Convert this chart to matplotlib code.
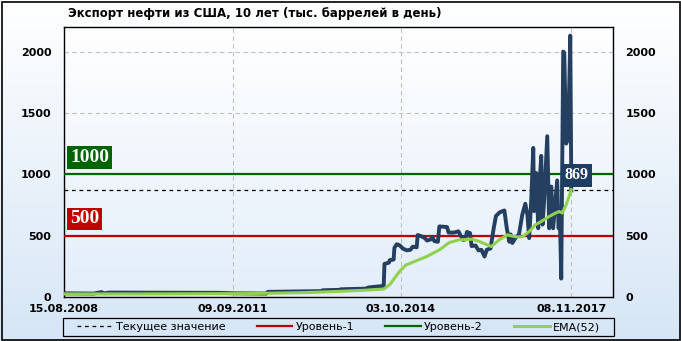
import matplotlib
matplotlib.use('Agg')
import matplotlib.pyplot as plt
import matplotlib.dates as mdates
import numpy as np
import pandas as pd
from matplotlib.colors import LinearSegmentedColormap
from matplotlib.patches import Rectangle
from matplotlib.transforms import blended_transform_factory

# export of crude oil, thousand barrels per day
export_dates = [
    '2008-08-15', '2009-03-01', '2009-04-20', '2009-05-10', '2009-06-10', '2010-06-01',
    '2011-06-01', '2011-10-01', '2012-04-20', '2012-05-01', '2013-04-20', '2013-05-01',
    '2013-08-15', '2013-09-01', '2014-02-10', '2014-03-01', '2014-06-10', '2014-06-15',
    '2014-07-15', '2014-07-20', '2014-08-15', '2014-08-20', '2014-09-05', '2014-09-25',
    '2014-10-15', '2014-11-10', '2014-12-05', '2014-12-20', '2015-01-15', '2015-01-22',
    '2015-02-15', '2015-03-10', '2015-03-25', '2015-04-20', '2015-04-28', '2015-05-13',
    '2015-06-05', '2015-06-15', '2015-08-05', '2015-08-15', '2015-09-20', '2015-10-20',
    '2015-11-01', '2015-11-20', '2015-12-05', '2015-12-15', '2016-01-05', '2016-01-15',
    '2016-02-10', '2016-03-01', '2016-03-20', '2016-04-10', '2016-04-25', '2016-05-20',
    '2016-06-10', '2016-06-25', '2016-07-20', '2016-08-20', '2016-09-05', '2016-09-22',
    '2016-10-01', '2016-10-12', '2016-11-01', '2016-11-25', '2016-12-17', '2017-01-06',
    '2017-01-20', '2017-02-01', '2017-02-15', '2017-02-28', '2017-03-06', '2017-03-20',
    '2017-04-02', '2017-04-10', '2017-04-22', '2017-05-01', '2017-05-12', '2017-06-01',
    '2017-06-14', '2017-06-28', '2017-07-10', '2017-08-06', '2017-08-15', '2017-08-25',
    '2017-09-02', '2017-09-15', '2017-09-22', '2017-10-05', '2017-10-18', '2017-11-01',
    '2017-11-08']
export_values = [
    30, 28, 40, 30, 36, 35,
    34, 30, 28, 42, 48, 55,
    58, 63, 68, 78, 90, 270,
    280, 300, 305, 400, 430, 420,
    395, 380, 385, 410, 405, 505,
    495, 480, 460, 470, 490, 455,
    450, 575, 570, 525, 525, 535,
    505, 465, 470, 530, 520, 415,
    420, 380, 385, 330, 385, 395,
    560, 660, 690, 705, 560, 450,
    510, 440, 480, 510, 670, 760,
    670, 480, 800, 1215, 700, 1010,
    560, 910, 1150, 590, 800, 1310,
    560, 900, 560, 950, 560, 600,
    150, 2000, 1990, 1250, 1300, 2130,
    869]

ema_dates = [
    '2008-08-15', '2010-01-01', '2012-01-01', '2012-12-01', '2013-08-01', '2014-02-01',
    '2014-06-10', '2014-07-20', '2014-09-22', '2014-11-05', '2015-03-21', '2015-06-15',
    '2015-08-20', '2015-10-26', '2016-01-20', '2016-03-07', '2016-05-25', '2016-07-17',
    '2016-09-08', '2016-11-07', '2016-12-17', '2017-02-01', '2017-03-13', '2017-04-22',
    '2017-06-14', '2017-07-20', '2017-08-19', '2017-09-08', '2017-10-05', '2017-11-08']
ema_values = [
    25, 25, 28, 35, 45, 55,
    65, 100, 207, 261, 329, 384,
    444, 466, 471, 452, 411, 466,
    506, 490, 490, 533, 588, 615,
    656, 680, 697, 684, 752, 874]

current_value = 869
level_1 = 500
level_2 = 1000
tick_dates = ['2008-08-15', '2011-09-09', '2014-10-03', '2017-11-08']
y_ticks = [0, 500, 1000, 1500, 2000]

W, H = 681, 341
fig = plt.figure(figsize=(W / 100, H / 100), dpi=100)

# plot area in pixels
left, right, top, bottom = 64, 613, 27, 297
ax_rect = [left / W, 1 - bottom / H, (right - left) / W, (bottom - top) / H]

# background gradients
bg = fig.add_axes([0, 0, 1, 1], zorder=-10)
bg.set_xlim(0, 1)
bg.set_ylim(0, 1)
bg.axis('off')
grad = np.linspace(0, 1, 256).reshape(-1, 1)
cm_fig = LinearSegmentedColormap.from_list('figbg', ['#FFFFFF', '#D6E6F6'])
cm_ax = LinearSegmentedColormap.from_list('axbg', ['#FFFFFF', '#E3EEFA'])
bg.imshow(grad, cmap=cm_fig, aspect='auto', extent=[0, 1, 0, 1], origin='upper')
bg.imshow(grad, cmap=cm_ax, aspect='auto', origin='upper',
          extent=[ax_rect[0], ax_rect[0] + ax_rect[2], ax_rect[1], ax_rect[1] + ax_rect[3]])
bg.add_patch(Rectangle((1.5 / W, 1.5 / H), 1 - 3 / W, 1 - 3 / H, fill=False,
                       edgecolor='black', linewidth=1.2))
# legend frame
bg.add_patch(Rectangle((63 / W, 1 - 336 / H), (614 - 63) / W, 18 / H, fill=False,
                       edgecolor='black', linewidth=0.9))

ax = fig.add_axes(ax_rect)
ax.patch.set_visible(False)

ex_d = pd.to_datetime(export_dates)
ema_d = pd.to_datetime(ema_dates)

ax.plot(ex_d, export_values, color='#243F60', linewidth=2.8, solid_joinstyle='round', zorder=5)
ema_line, = ax.plot(ema_d, ema_values, color='#92D050', linewidth=2.2, zorder=6)
cur_line = ax.axhline(current_value, color='black', linestyle=(0, (3, 3)), linewidth=0.9, zorder=4)
l1 = ax.axhline(level_1, color='#C00000', linewidth=1.6, zorder=4)
l2 = ax.axhline(level_2, color='#006400', linewidth=1.6, zorder=4)

ax.set_ylim(0, 2200)
ax.set_xlim(pd.Timestamp('2008-08-15'), pd.Timestamp('2018-08-12'))
ax.set_yticks(y_ticks)
ax.set_xticks(pd.to_datetime(tick_dates))
ax.xaxis.set_major_formatter(mdates.DateFormatter('%d.%m.%Y'))
ax.grid(True, color='#C0C0C0', linestyle=(0, (4, 3)), linewidth=0.8)
ax.set_axisbelow(True)
ax.tick_params(axis='y', length=0, pad=9, labelleft=True, labelright=True, labelsize=8)
ax.tick_params(axis='x', length=0, pad=5, labelsize=8)
for lab in ax.get_xticklabels() + ax.get_yticklabels():
    lab.set_fontweight('bold')
for t in ax.yaxis.get_major_ticks():
    t.label2.set_fontweight('bold')
for s in ax.spines.values():
    s.set_color('black')
    s.set_linewidth(1)

# level labels
tr = blended_transform_factory(ax.transAxes, ax.transData)
ax.annotate(str(level_2), xy=(0.011, level_2), xycoords=tr, xytext=(0, 12), textcoords='offset points',
            ha='left', va='center', color='white', fontsize=14, fontweight='bold',
            family='Liberation Serif', zorder=8,
            bbox=dict(boxstyle='square,pad=0.15', facecolor='#006400', edgecolor='none'))
ax.annotate(str(level_1), xy=(0.011, level_1), xycoords=tr, xytext=(0, 12), textcoords='offset points',
            ha='left', va='center', color='white', fontsize=14, fontweight='bold',
            family='Liberation Serif', zorder=8,
            bbox=dict(boxstyle='square,pad=0.15', facecolor='#C00000', edgecolor='none'))
ax.annotate(str(current_value), xy=(ex_d[-1], current_value), xytext=(4, 11), textcoords='offset points',
            ha='center', va='center', color='white', fontsize=11.5, fontweight='bold',
            family='Liberation Serif', zorder=8,
            bbox=dict(boxstyle='square,pad=0.22', facecolor='#1F3D63', edgecolor='none'))

fig.text(68 / W, 1 - 14 / H, 'Экспорт нефти из США, 10 лет (тыс. баррелей в день)',
         fontsize=8.5, fontweight='bold', ha='left', va='center')

fig.legend([cur_line, l1, l2, ema_line],
           ['Текущее значение', 'Уровень-1', 'Уровень-2', 'EMA(52)'],
           loc='center', bbox_to_anchor=(338.5 / W, 1 - 327 / H), ncol=4, frameon=False,
           fontsize=8, handlelength=3.2, handletextpad=0.3, columnspacing=2.8,
           borderpad=0, borderaxespad=0)

fig.savefig('out.png', dpi=100)
